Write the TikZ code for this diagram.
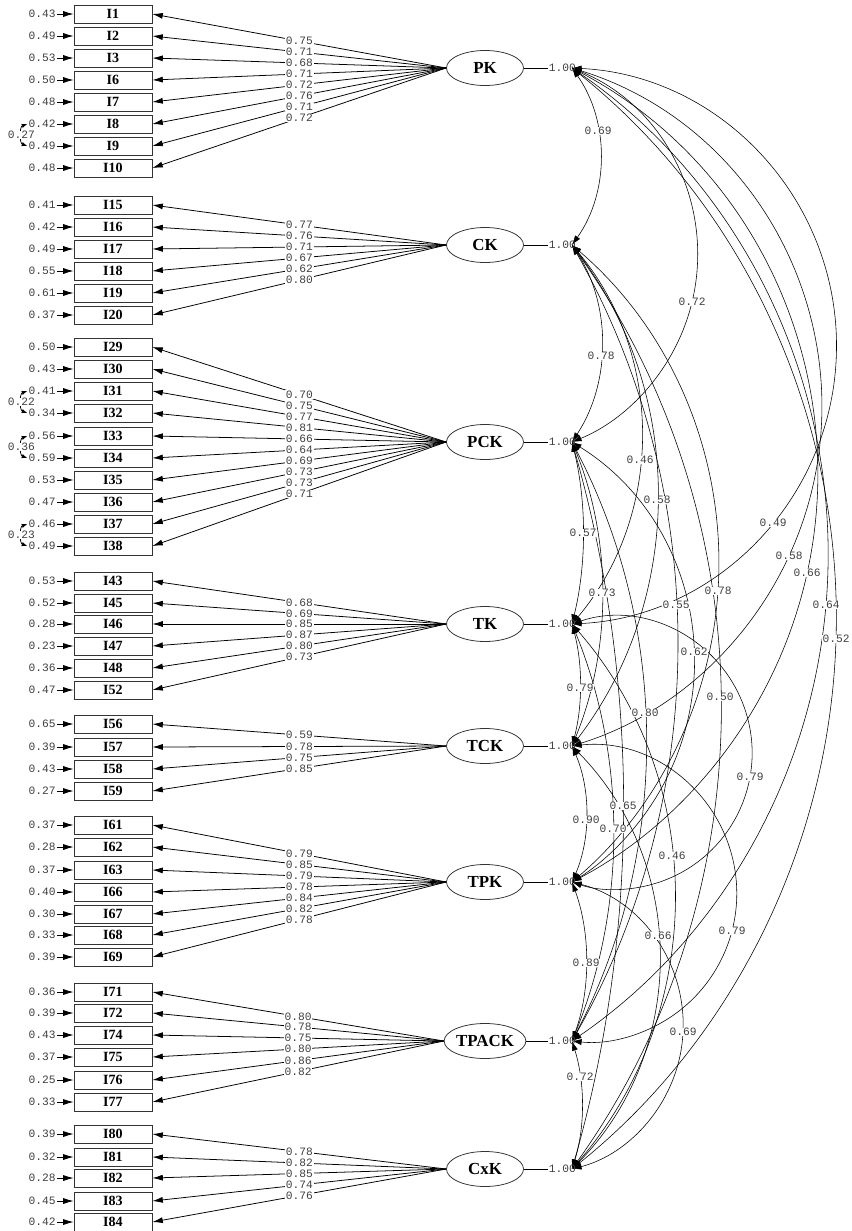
\documentclass[tikz,border=0pt]{standalone}
\usepackage{fontspec}
\setmainfont{Liberation Serif}
\newfontfamily\estfont{Liberation Mono}
\usetikzlibrary{arrows.meta,positioning,shapes.geometric,backgrounds}
\newcommand{\yPK}{68}
\newcommand{\yCK}{245}
\newcommand{\yPCK}{442}
\newcommand{\yTK}{624}
\newcommand{\yTCK}{746}
\newcommand{\yTPK}{882}
\newcommand{\yTPACK}{1041}
\newcommand{\yCxK}{1169}
\tikzset{
  ind/.style={draw=black!80, minimum width=1.95cm, minimum height=0.45cm, inner sep=0pt,
    font=\bfseries\fontsize{10}{11}\selectfont},
  lat/.style={draw=black!80, ellipse, minimum width=1.925cm, minimum height=0.875cm, inner sep=0pt,
    font=\bfseries\fontsize{12}{13}\selectfont},
  est/.style={font=\estfont\fontsize{8}{8}\selectfont, text=black!75, fill=white,
    inner xsep=0.6pt, inner ysep=0.4pt, text depth=0pt},
  var/.style={est, fill=none},
  load/.style={-{Latex[length=2.6mm,width=1.5mm]}},
  cov/.style={{Latex[length=2.4mm,width=1.5mm]}-{Latex[length=2.4mm,width=1.5mm]}},
  ecov/.style={{Latex[length=1.4mm,width=1.1mm]}-{Latex[length=1.4mm,width=1.1mm]}},
}
% circular arc from one factor to a lower one, through the label point
\newcommand{\corr}[5]{%
  \edef\corYa{\csname y#1\endcsname}\edef\corYb{\csname y#2\endcsname}%
  \pgfmathsetmacro{\corH}{(\corYb-\corYa)/200}%
  \pgfmathsetmacro{\corW}{(#3-572)/100}%
  \pgfmathsetmacro{\corD}{(#4-(\corYa+\corYb)/2)/100}%
  \pgfmathsetmacro{\corA}{(\corH*\corH-\corW*\corW-\corD*\corD)/(2*\corW)}%
  \pgfmathsetmacro{\corR}{100*sqrt(\corA*\corA+\corH*\corH)}%
  \pgfmathsetmacro{\corT}{atan2(\corH,\corA)}%
  \begin{pgfonlayer}{background}
    \draw[cov] (#1a) arc[start angle=-\corT, end angle=\corT, radius=\corR];
  \end{pgfonlayer}
  \node[est] (r#1#2) at (#3,#4) {#5};}

\begin{document}
\begin{tikzpicture}[x=0.025cm, y=-0.025cm, line width=0.55pt]
  \useasboundingbox (0,0) rectangle (852,1231);
  \foreach \f in {PK,CK,PCK,TK,TCK,TPK,TPACK,CxK} {
    \node[lat] (\f) at (485,\csname y\f\endcsname) {\f};
    \node[var, anchor=east] (\f v) at (577,\csname y\f\endcsname) {1.00};
    \coordinate (\f a) at (572,\csname y\f\endcsname);
    \draw (\f.east) -- (\f v);
  }
  \foreach \n/\y/\e/\l/\f in {1/14/0.43/0.75/PK, 2/36/0.49/0.71/PK, 3/58/0.53/0.68/PK,
      6/80/0.50/0.71/PK, 7/102/0.48/0.72/PK, 8/124/0.42/0.76/PK, 9/146/0.49/0.71/PK,
      10/168/0.48/0.72/PK,
      15/205/0.41/0.77/CK, 16/227/0.42/0.76/CK, 17/249/0.49/0.71/CK, 18/271/0.55/0.67/CK,
      19/293/0.61/0.62/CK, 20/315/0.37/0.80/CK,
      29/347/0.50/0.70/PCK, 30/369/0.43/0.75/PCK, 31/391/0.41/0.77/PCK, 32/413/0.34/0.81/PCK,
      33/436/0.56/0.66/PCK, 34/458/0.59/0.64/PCK, 35/480/0.53/0.69/PCK, 36/502/0.47/0.73/PCK,
      37/524/0.46/0.73/PCK, 38/546/0.49/0.71/PCK,
      43/581/0.53/0.68/TK, 45/603/0.52/0.69/TK, 46/624/0.28/0.85/TK, 47/646/0.23/0.87/TK,
      48/668/0.36/0.80/TK, 52/690/0.47/0.73/TK,
      56/724/0.65/0.59/TCK, 57/747/0.39/0.78/TCK, 58/769/0.43/0.75/TCK, 59/791/0.27/0.85/TCK,
      61/825/0.37/0.79/TPK, 62/847/0.28/0.85/TPK, 63/870/0.37/0.79/TPK, 66/892/0.40/0.78/TPK,
      67/914/0.30/0.84/TPK, 68/935/0.33/0.82/TPK, 69/957/0.39/0.78/TPK,
      71/992/0.36/0.80/TPACK, 72/1013/0.39/0.78/TPACK, 74/1035/0.43/0.75/TPACK,
      75/1057/0.37/0.80/TPACK, 76/1080/0.25/0.86/TPACK, 77/1102/0.33/0.82/TPACK,
      80/1134/0.39/0.78/CxK, 81/1157/0.32/0.82/CxK, 82/1178/0.28/0.85/CxK,
      83/1201/0.45/0.74/CxK, 84/1222/0.42/0.76/CxK} {
    \node[ind] (I\n) at (113,\y) {I\n};
    \node[est, left=4.2mm of I\n] (e\n) {\e};
    \draw[load] (e\n) -- (I\n);
    \draw[load] (\f.west) -- node[est] (l\n) {\l} (I\n.east);
  }
  \draw[ecov] (e8.west) to[out=200, in=160] node[est] (c8) {0.27} (e9.west);
  \draw[ecov] (e31.west) to[out=200, in=160] node[est] (c31) {0.22} (e32.west);
  \draw[ecov] (e33.west) to[out=200, in=160] node[est] (c33) {0.36} (e34.west);
  \draw[ecov] (e37.west) to[out=200, in=160] node[est] (c37) {0.23} (e38.west);
  \corr{PK}{CK}{598}{131}{0.69}
  \corr{PK}{PCK}{692}{302}{0.72}
  \corr{PK}{TK}{773}{523}{0.49}
  \corr{PK}{TCK}{789}{556}{0.58}
  \corr{PK}{TPK}{807}{573}{0.66}
  \corr{PK}{TPACK}{826}{605}{0.64}
  \corr{PK}{CxK}{836}{639}{0.52}
  \corr{CK}{PCK}{601}{356}{0.78}
  \corr{CK}{TK}{640}{460}{0.46}
  \corr{CK}{TCK}{657}{500}{0.58}
  \corr{CK}{TPK}{718}{591}{0.78}
  \corr{CK}{TPACK}{676}{605}{0.55}
  \corr{CK}{CxK}{720}{697}{0.50}
  \corr{PCK}{TK}{583}{533}{0.57}
  \corr{PCK}{TCK}{602}{593}{0.73}
  \corr{PCK}{TPK}{694}{652}{0.62}
  \corr{PCK}{TPACK}{645}{713}{0.80}
  \corr{PCK}{CxK}{623}{806}{0.65}
  \corr{TK}{TCK}{580}{688}{0.79}
  \corr{TK}{TPK}{750}{777}{0.79}
  \corr{TK}{TPACK}{613}{829}{0.70}
  \corr{TK}{CxK}{672}{856}{0.46}
  \corr{TCK}{TPK}{586}{820}{0.90}
  \corr{TCK}{TPACK}{732}{931}{0.79}
  \corr{TCK}{CxK}{658}{936}{0.66}
  \corr{TPK}{TPACK}{586}{963}{0.89}
  \corr{TPK}{CxK}{683}{1032}{0.69}
  \corr{TPACK}{CxK}{580}{1077}{0.72}
\end{tikzpicture}
\end{document}
